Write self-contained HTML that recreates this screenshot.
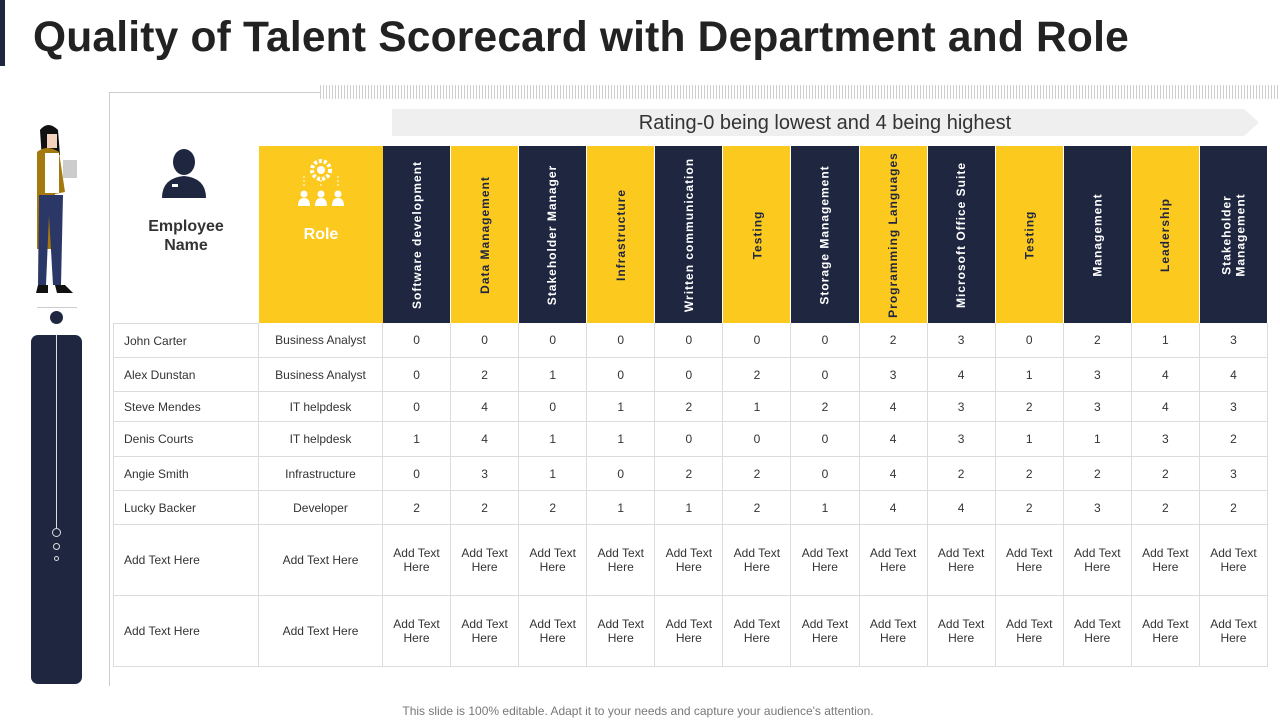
<!DOCTYPE html>
<html><head><meta charset="utf-8"><style>
body{margin:0;width:1280px;height:720px;position:relative;background:#fff;font-family:"Liberation Sans",sans-serif;overflow:hidden}
.a{position:absolute}
.cell{position:absolute;box-sizing:border-box;border-right:1px solid #dcdcdc;border-bottom:1px solid #dcdcdc;display:flex;align-items:center;justify-content:center;text-align:center;font-size:12px;color:#333;line-height:14px}
.hd{position:absolute;box-sizing:border-box;display:flex;align-items:center;justify-content:center}
.hd span{transform:rotate(-90deg);white-space:nowrap;font-weight:bold;font-size:12px;letter-spacing:1px;text-align:center;line-height:14px}
</style></head><body>
<div class="a" style="left:0;top:0;width:5px;height:66px;background:#1f2640"></div>
<div class="a" style="left:33px;top:14px;font-size:42.5px;font-weight:bold;color:#222;letter-spacing:0.2px">Quality of Talent Scorecard with Department and Role</div>
<div class="a" style="left:320px;top:85px;width:958px;height:14px;background:repeating-linear-gradient(90deg,#cfcfcf 0 1px,#fff 1px 3px)"></div>
<div class="a" style="left:109px;top:92px;width:211px;height:1px;background:#ccc"></div>
<div class="a" style="left:109px;top:92px;width:1px;height:594px;background:#ccc"></div>
<svg class="a" style="left:392px;top:109px" width="868" height="27"><polygon points="0,0 852,0 867,13.5 852,27 0,27" fill="#efefef"/><text x="433" y="20" text-anchor="middle" font-size="20" fill="#333" font-family="Liberation Sans">Rating-0 being lowest and 4 being highest</text></svg>
<svg class="a" style="left:25px;top:120px" width="65" height="185">
<path d="M15 10 q8-10 18 0 l2 25 -18 5z" fill="#111"/>
<rect x="22" y="14" width="10" height="14" fill="#f3d3c0"/>
<path d="M12 32 q10-8 22 0 l6 40 -10 2 -4 55 -14 0z" fill="#a47a0e"/>
<rect x="20" y="33" width="14" height="40" fill="#fff"/>
<rect x="38" y="40" width="14" height="18" fill="#ccc"/>
<path d="M14 75 h24 l-2 90 h-8 l-4-70 -3 70 h-8z" fill="#2b3766"/>
<path d="M13 165 h10 v8 h-12z M30 165 h10 l8 8 h-16z" fill="#111"/>
</svg>
<div class="a" style="left:37px;top:307px;width:40px;height:1px;background:#ccc"></div>
<div class="a" style="left:50px;top:311px;width:13px;height:13px;border-radius:50%;background:#1f2640"></div>
<div class="a" style="left:31px;top:335px;width:51px;height:349px;border-radius:7px;background:#1f2640"></div>
<div class="a" style="left:56px;top:335px;width:1px;height:194px;background:#ddd"></div>
<div class="a" style="left:52px;top:528px;width:7px;height:7px;border:1px solid #ddd;border-radius:50%"></div>
<div class="a" style="left:53px;top:543px;width:5px;height:5px;border:1px solid #ddd;border-radius:50%"></div>
<div class="a" style="left:54px;top:556px;width:3px;height:3px;border:1px solid #ddd;border-radius:50%"></div>
<svg class="a" style="left:160px;top:148px" width="48" height="52"><ellipse cx="24" cy="14" rx="11" ry="13" fill="#1f2640"/><path d="M2 50 q0-20 22-22 q22 2 22 22z" fill="#1f2640"/><rect x="12" y="36" width="6" height="3" fill="#fff"/></svg>
<div class="a" style="left:113px;top:217px;width:146px;text-align:center;font-size:16px;font-weight:bold;color:#333;line-height:19px">Employee<br>Name</div>
<div class="a" style="left:259px;top:146px;width:124px;height:177px;background:#fcc91f"></div>
<svg class="a" style="left:296px;top:156px" width="50" height="52"><circle cx="25" cy="14" r="9" fill="none" stroke="#fff" stroke-width="4" stroke-dasharray="3 2"/><circle cx="25" cy="14" r="4" fill="#fff"/><path d="M8 20 v12 M25 24 v8 M42 20 v12" stroke="#fff" stroke-dasharray="2 2"/><g fill="#fff"><circle cx="8" cy="38" r="3.5"/><path d="M2 50 q0-8 6-8 q6 0 6 8z"/><circle cx="25" cy="38" r="3.5"/><path d="M19 50 q0-8 6-8 q6 0 6 8z"/><circle cx="42" cy="38" r="3.5"/><path d="M36 50 q0-8 6-8 q6 0 6 8z"/></g></svg>
<div class="a" style="left:259px;top:226px;width:124px;text-align:center;font-size:16px;font-weight:bold;color:#fff">Role</div>
<div id="tbl"></div>
<div class="a" style="left:0;top:704px;width:1276px;text-align:center;font-size:12px;color:#777">This slide is 100% editable. Adapt it to your needs and capture your audience's attention.</div>
<script>
const skills=["Software development","Data Management","Stakeholder Manager","Infrastructure","Written communication","Testing","Storage Management","Programming Languages","Microsoft Office Suite","Testing","Management","Leadership","Stakeholder<br>Management"];
const names=["John Carter","Alex Dunstan","Steve Mendes","Denis Courts","Angie Smith","Lucky Backer","Add Text Here","Add Text Here"];
const roles=["Business Analyst","Business Analyst","IT helpdesk","IT helpdesk","Infrastructure","Developer","Add Text Here","Add Text Here"];
const r1=[0,0,0,0,0,0,0,2,3,0,2,1,3];
const r2=[0,2,1,0,0,2,0,3,4,1,3,4,4];
const r3=[0,4,0,1,2,1,2,4,3,2,3,4,3];
const r4=[1,4,1,1,0,0,0,4,3,1,1,3,2];
const r5=[0,3,1,0,2,2,0,4,2,2,2,2,3];
const r6=[2,2,2,1,1,2,1,4,4,2,3,2,2];
const ratings=[r1,r2,r3,r4,r5,r6];
const rowY=[323,358,392,422,457,491,525,596,667];
const x0=383,cw=(1268-383)/13;
const t=document.getElementById('tbl');
function mk(cls,l,tp,w,h,html){const d=document.createElement('div');d.className=cls;d.style.left=l+'px';d.style.top=tp+'px';d.style.width=w+'px';d.style.height=h+'px';d.innerHTML=html;t.appendChild(d);return d;}
skills.forEach((s,i)=>{
 const nav=i%2===0;
 const d=mk('hd',x0+i*cw,146,cw-1,177,'<span style="color:'+(nav?'#fff':'#1f2640')+'">'+s+'</span>');
 d.style.background=nav?'#1f2640':'#fcc91f';
 
 
});
for(let r=0;r<names.length;r++){
 const y=rowY[r],h=rowY[r+1]-y;
 const n=mk('cell',113,y,146,h,names[r]);n.style.justifyContent='flex-start';n.style.paddingLeft='10px';n.style.borderLeft='1px solid #dcdcdc';
 if(r===0)n.style.borderTop='1px solid #dcdcdc';
 
 
 const ro=mk('cell',259,y,124,h,roles[r]);
 
 
 for(let c=0;c<13;c++){
  const v=r<ratings.length?String(ratings[r][c]):'Add Text<br>Here';
  const d=mk('cell',x0+c*cw,y,cw,h,v);
  
  
 }
}
</script>
</body></html>
